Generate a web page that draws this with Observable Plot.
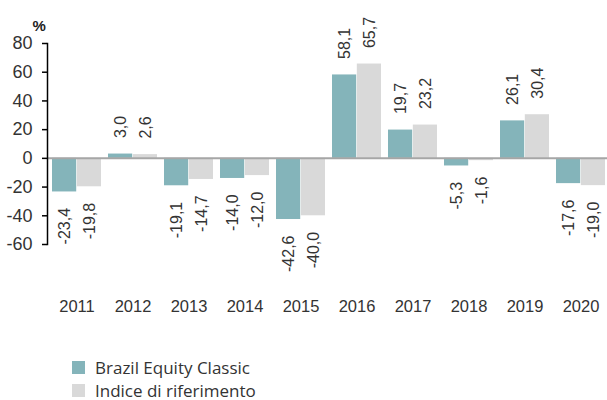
<!DOCTYPE html>
<html>
<head>
<meta charset="utf-8">
<script src="https://cdn.jsdelivr.net/npm/d3@7"></script>
<script src="https://cdn.jsdelivr.net/npm/@observablehq/plot@0.6"></script>
<style>
  body { margin: 0; background: #fff; font-family: "Liberation Sans", Arial, sans-serif; overflow: hidden; }
  #legend { margin: 16px 0 0 72px; font-family: "Open Sans", sans-serif; font-size: 17px; color: #333; }
  .row { display: flex; align-items: center; height: 23px; }
  .row span { line-height: 18px; }
  .sw { width: 13px; height: 13px; margin-right: 10px; }
</style>
</head>
<body>
<div id="chart"></div>
<div id="legend"></div>
<script>
const years = ["2011","2012","2013","2014","2015","2016","2017","2018","2019","2020"];
const fundValues = [-23.4, 3.0, -19.1, -14.0, -42.6, 58.1, 19.7, -5.3, 26.1, -17.6];
const indexValues = [-19.8, 2.6, -14.7, -12.0, -40.0, 65.7, 23.2, -1.6, 30.4, -19.0];
const seriesNames = ["Brazil Equity Classic", "Indice di riferimento"];
const seriesColors = ["#84b4ba", "#d9d9d9"];
const yTicks = [-60, -40, -20, 0, 20, 40, 60, 80];

const fund = years.map((y, i) => ({year: y, value: fundValues[i]}));
const idx = years.map((y, i) => ({year: y, value: indexValues[i]}));
const fmt = v => v.toFixed(1).replace(".", ",");

const half = 24.8;
const labelMarks = (data, dx) => [
  Plot.text(data.filter(d => d.value >= 0), {x: "year", y: "value", text: d => fmt(d.value), rotate: -90, textAnchor: "start", dx, dy: -16, fontSize: 16, fill: "#333"}),
  Plot.text(data.filter(d => d.value < 0), {x: "year", y: "value", text: d => fmt(d.value), rotate: -90, textAnchor: "end", dx, dy: 16, fontSize: 16, fill: "#333"})
];

const chart = Plot.plot({
  width: 607,
  height: 340,
  marginLeft: 47,
  marginRight: 0,
  marginTop: 43,
  marginBottom: 96,
  style: {fontFamily: "'Liberation Sans', Arial, sans-serif", color: "#333", background: "#fff", overflow: "hidden"},
  x: {domain: years, padding: 0.12, range: [43, 614]},
  y: {domain: [-60, 80]},
  marks: [
    Plot.barY(fund, {x: "year", y: "value", fill: seriesColors[0], insetRight: half}),
    Plot.barY(idx, {x: "year", y: "value", fill: seriesColors[1], insetLeft: half}),
    Plot.ruleY([0], {stroke: "#a6a6a6", strokeWidth: 2}),
    Plot.frame({anchor: "left", stroke: "#000", strokeWidth: 1.5}),
    Plot.axisY({ticks: yTicks, tickSize: 5, tickPadding: 10, fontSize: 18, stroke: "#000", strokeWidth: 1.5, label: null, tickFormat: d => String(d)}),
    Plot.axisX({tickSize: 0, tickPadding: 56, fontSize: 16.5, label: null}),
    ...labelMarks(fund, -12.4),
    ...labelMarks(idx, 12.4),
    Plot.text(["%"], {frameAnchor: "top-left", text: d => d, dx: -15, dy: -23, fontSize: 15, fontWeight: "bold", fill: "#222"})
  ]
});
document.getElementById("chart").append(chart);

const legend = document.getElementById("legend");
seriesNames.forEach((n, i) => {
  const row = document.createElement("div");
  row.className = "row";
  const sw = document.createElement("div");
  sw.className = "sw";
  sw.style.background = seriesColors[i];
  const t = document.createElement("span");
  t.textContent = n;
  row.append(sw, t);
  legend.append(row);
});
</script>
</body>
</html>
